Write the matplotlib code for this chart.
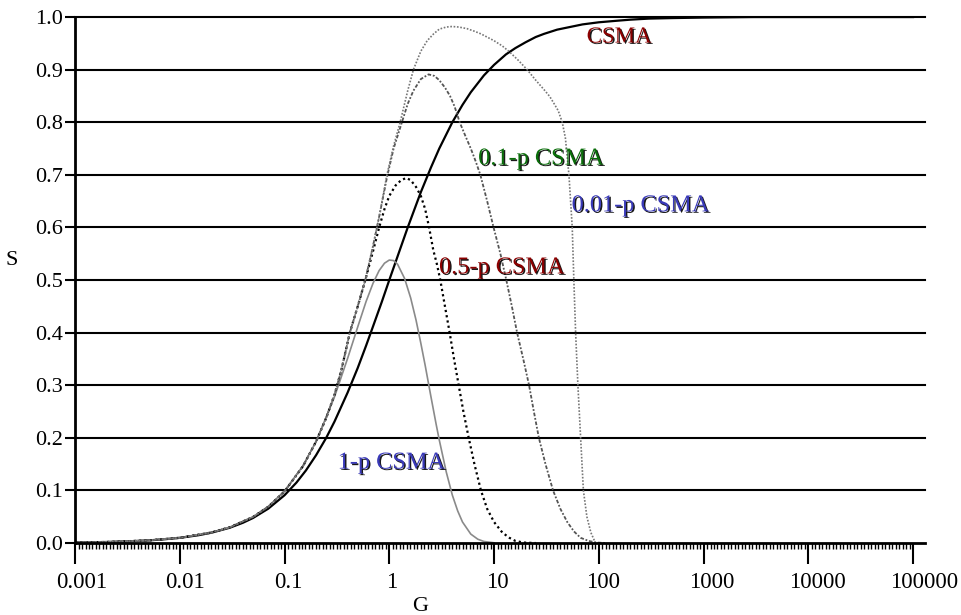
import matplotlib.pyplot as plt
import matplotlib.patheffects as pe
from matplotlib.ticker import FixedLocator, NullFormatter
from matplotlib.transforms import ScaledTranslation

plt.rcParams['font.family'] = ['Liberation Serif', 'DejaVu Serif']

# offered load G and throughput S for each access scheme
g_csma = [0.001, 0.002, 0.003, 0.005, 0.007, 0.01, 0.015, 0.02, 0.03, 0.04, 0.05, 0.07, 0.1,
          0.13, 0.16, 0.2, 0.25, 0.3, 0.4, 0.5, 0.6, 0.7, 0.85, 1.0, 1.2, 1.5, 2, 2.5, 3, 4,
          5, 6, 8, 10, 13, 16, 20, 25, 30, 40, 50, 70, 100, 150, 200, 300, 500, 1000, 3000,
          10000, 100000]
s_csma = [0.001, 0.002, 0.003, 0.005, 0.007, 0.0099, 0.0148, 0.0196, 0.0291, 0.0385, 0.0476,
          0.0654, 0.0909, 0.115, 0.138, 0.167, 0.2, 0.231, 0.286, 0.333, 0.375, 0.412, 0.459,
          0.5, 0.545, 0.6, 0.667, 0.714, 0.75, 0.8, 0.833, 0.857, 0.889, 0.909, 0.929, 0.941,
          0.952, 0.962, 0.968, 0.976, 0.98, 0.986, 0.99, 0.993, 0.995, 0.997, 0.998, 0.999,
          1.0, 1.0, 1.0]

g_1p = [0.001, 0.002, 0.005, 0.01, 0.02, 0.03, 0.05, 0.07, 0.1, 0.15, 0.2, 0.3, 0.4, 0.5,
        0.6, 0.7, 0.8, 0.9, 1.0, 1.1, 1.2, 1.4, 1.6, 1.8, 2.0, 2.2, 2.5, 2.8, 3.0, 3.5, 4.0,
        4.5, 5.0, 6.0, 7.0, 8.0, 10]
s_1p = [0.001, 0.002, 0.005, 0.01, 0.02, 0.03, 0.0499, 0.0697, 0.099, 0.147, 0.193, 0.278,
        0.351, 0.411, 0.459, 0.494, 0.518, 0.532, 0.538, 0.537, 0.53, 0.503, 0.466, 0.424,
        0.38, 0.338, 0.278, 0.226, 0.196, 0.135, 0.091, 0.061, 0.04, 0.017, 0.0073, 0.003,
        0.0005]

g_05p = [0.001, 0.002, 0.005, 0.01, 0.02, 0.03, 0.05, 0.07, 0.1, 0.15, 0.2, 0.25, 0.3, 0.35,
         0.42, 0.5, 0.59, 0.7, 0.8, 0.9, 1.0, 1.15, 1.3, 1.45, 1.6, 1.8, 2.0, 2.2, 2.4, 2.63,
         2.85, 3.07, 3.4, 3.77, 4.15, 4.6, 5.1, 5.73, 6.5, 7.5, 8.6, 10, 12, 14, 16, 19, 25]
s_05p = [0.001, 0.002, 0.005, 0.01, 0.02, 0.03, 0.0495, 0.069, 0.098, 0.146, 0.193, 0.238,
         0.282, 0.33, 0.4, 0.45, 0.5, 0.555, 0.6, 0.635, 0.66, 0.68, 0.69, 0.694, 0.69,
         0.677, 0.66, 0.635, 0.6, 0.557, 0.53, 0.5, 0.45, 0.4, 0.35, 0.3, 0.25, 0.2, 0.15,
         0.1, 0.065, 0.04, 0.02, 0.01, 0.004, 0.001, 0.0]

g_01p = [0.001, 0.002, 0.005, 0.01, 0.02, 0.03, 0.05, 0.07, 0.1, 0.15, 0.2, 0.25, 0.3, 0.35,
         0.42, 0.5, 0.59, 0.7, 0.8, 0.95, 1.1, 1.32, 1.5, 1.7, 2.0, 2.37, 2.7, 3.0, 3.4, 3.8,
         4.2, 4.7, 5.3, 6.0, 6.7, 7.4, 8.6, 9.9, 11.5, 13.1, 14.8, 16.6, 19, 21.6, 24, 26.8,
         31, 36.6, 43, 50, 58, 67, 80, 95, 120]
s_01p = [0.001, 0.002, 0.005, 0.01, 0.02, 0.03, 0.0495, 0.069, 0.098, 0.146, 0.193, 0.238,
         0.282, 0.33, 0.4, 0.45, 0.5, 0.565, 0.62, 0.695, 0.75, 0.8, 0.835, 0.86, 0.882,
         0.891, 0.888, 0.88, 0.866, 0.85, 0.83, 0.8, 0.775, 0.75, 0.725, 0.7, 0.65, 0.6,
         0.55, 0.5, 0.45, 0.4, 0.35, 0.3, 0.25, 0.2, 0.15, 0.1, 0.065, 0.04, 0.022, 0.01,
         0.004, 0.001, 0.0]

g_001p = [0.001, 0.002, 0.005, 0.01, 0.02, 0.03, 0.05, 0.07, 0.1, 0.15, 0.2, 0.25, 0.3,
          0.35, 0.42, 0.5, 0.59, 0.7, 0.8, 0.95, 1.1, 1.27, 1.5, 1.7, 2.0, 2.3, 2.65, 3.0,
          3.5, 3.97, 4.6, 5.5, 6.5, 7.5, 10, 12, 14, 17, 20.7, 25, 30, 34, 37, 41, 44.8, 48,
          51.9, 55.8, 57.8, 60.1, 63.2, 67.1, 71.3, 77, 84, 93]
s_001p = [0.001, 0.002, 0.005, 0.01, 0.02, 0.03, 0.0495, 0.069, 0.098, 0.146, 0.193, 0.238,
          0.282, 0.33, 0.4, 0.45, 0.5, 0.565, 0.62, 0.7, 0.755, 0.8, 0.86, 0.9, 0.935,
          0.955, 0.968, 0.977, 0.981, 0.982, 0.981, 0.978, 0.973, 0.968, 0.955, 0.945,
          0.934, 0.918, 0.9, 0.88, 0.862, 0.849, 0.837, 0.822, 0.8, 0.77, 0.7, 0.6, 0.5,
          0.4, 0.3, 0.2, 0.1, 0.05, 0.02, 0.0]

x_ticks = [0.001, 0.01, 0.1, 1, 10, 100, 1000, 10000, 100000]
x_tick_labels = ['0.001', '0.01', '0.1', '1', '10', '100', '1000', '10000', '100000']
y_ticks = [0.0, 0.1, 0.2, 0.3, 0.4, 0.5, 0.6, 0.7, 0.8, 0.9, 1.0]

fig = plt.figure(figsize=(9.62, 6.15), dpi=100)
ax = fig.add_axes([0.078, 0.117, 0.8835, 0.8553])

for y in y_ticks[1:]:
    ax.axhline(y, color='black', lw=1.5, zorder=1, clip_on=False)

ax.plot(g_csma, s_csma, color='black', lw=1.6, zorder=3)
ax.plot(g_1p, s_1p, color='#8a8a8a', lw=1.2, zorder=3)
ax.plot(g_05p, s_05p, color='black', lw=1.6, ls=(0, (1, 1.4)), zorder=3)
ax.plot(g_01p, s_01p, color='#555555', lw=1.3, ls=(0, (2, 1, 1, 1)), zorder=3)
ax.plot(g_001p, s_001p, color='#777777', lw=1.2, ls=(0, (1, 1)), zorder=3)

ax.set_xscale('log')
ax.set_xlim(0.001, 1.3e5)
ax.set_ylim(0, 1.0)

ax.xaxis.set_major_locator(FixedLocator(x_ticks))
ax.set_xticklabels(x_tick_labels)
minor = [10 ** (d + k / 30) for d in range(-3, 5) for k in range(1, 30)]
ax.xaxis.set_minor_locator(FixedLocator(minor))
ax.xaxis.set_minor_formatter(NullFormatter())
ax.set_yticks(y_ticks)
ax.set_yticklabels([f'{v:.1f}' for v in y_ticks])

ax.tick_params(axis='x', which='major', direction='out', length=15, width=1.5,
               labelsize=16.5, pad=6)
ax.tick_params(axis='x', which='minor', direction='out', length=4.5, width=1.0)
ax.tick_params(axis='y', direction='out', length=7.5, width=1.5, labelsize=16, pad=1)

# the G labels sit a little right of their ticks, more so for the long ones
label_shift_px = [7, 5, 4, 2, 3, 4, 8, 9, 11]
for lab, dx in zip(ax.get_xticklabels(), label_shift_px):
    lab.set_transform(lab.get_transform() + ScaledTranslation(dx / 100, 0, fig.dpi_scale_trans))

for side in ['top', 'right']:
    ax.spines[side].set_visible(False)
for side in ['left', 'bottom']:
    ax.spines[side].set_linewidth(2)
    ax.spines[side].set_zorder(4)

ax.set_xlabel('G', fontsize=16)
ax.xaxis.set_label_coords(0.406, -0.103)
ax.set_ylabel('S', fontsize=16, rotation=0, ha='center', va='center')
ax.yaxis.set_label_coords(-0.074, 0.537)

shadow = [pe.SimplePatchShadow(offset=(1, -1), shadow_rgbFace='black', alpha=0.9), pe.Normal()]
labels = [
    ('CSMA', 0.640, 0.962, '#8b0000', 16.5),
    ('0.1-p CSMA', 0.548, 0.730, '#0a6e0a', 17.5),
    ('0.01-p CSMA', 0.665, 0.641, '#3a3ab8', 17.5),
    ('0.5-p CSMA', 0.502, 0.523, '#8b0000', 17.5),
    ('1-p CSMA', 0.372, 0.152, '#3a3ab8', 17.5),
]
for text, fx, fy, col, size in labels:
    ax.text(fx, fy, text, color=col, fontsize=size, ha='center', va='center',
            transform=ax.transAxes, path_effects=shadow, zorder=5)

fig.savefig('out.png', dpi=100)
